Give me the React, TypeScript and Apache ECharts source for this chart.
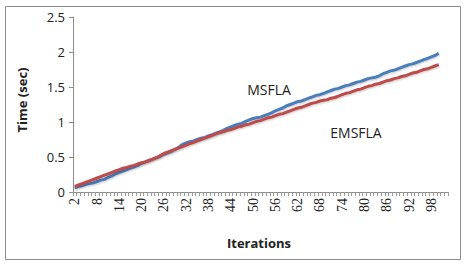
import React, { useEffect, useRef } from "react";
import * as echarts from "echarts";

const categories: string[] = [];
for (let k = 2; k <= 102; k++) categories.push(String(k));

const msfla = [
  0.06, 0.08, 0.09, 0.11, 0.12, 0.13, 0.15, 0.17, 0.18, 0.21,
  0.23, 0.26, 0.28, 0.30, 0.32, 0.34, 0.36, 0.38, 0.41, 0.43,
  0.45, 0.47, 0.49, 0.51, 0.54, 0.56, 0.58, 0.61, 0.64, 0.68,
  0.70, 0.72, 0.73, 0.75, 0.77, 0.78, 0.80, 0.82, 0.84, 0.86,
  0.88, 0.91, 0.93, 0.95, 0.97, 0.98, 1.01, 1.03, 1.05, 1.06,
  1.07, 1.09, 1.11, 1.13, 1.16, 1.18, 1.20, 1.23, 1.25, 1.27,
  1.29, 1.30, 1.32, 1.34, 1.36, 1.38, 1.39, 1.41, 1.43, 1.45,
  1.47, 1.48, 1.50, 1.52, 1.53, 1.55, 1.57, 1.58, 1.60, 1.62,
  1.63, 1.64, 1.66, 1.69, 1.71, 1.73, 1.74, 1.76, 1.78, 1.80,
  1.82, 1.83, 1.85, 1.87, 1.89, 1.91, 1.93, 1.95, 1.98,
];

const emsfla = [
  0.08, 0.10, 0.12, 0.14, 0.16, 0.18, 0.20, 0.22, 0.24, 0.26,
  0.28, 0.30, 0.32, 0.34, 0.35, 0.37, 0.38, 0.40, 0.42, 0.43,
  0.45, 0.47, 0.49, 0.52, 0.55, 0.57, 0.59, 0.61, 0.63, 0.65,
  0.67, 0.69, 0.71, 0.73, 0.75, 0.77, 0.79, 0.81, 0.83, 0.85,
  0.86, 0.88, 0.89, 0.91, 0.93, 0.94, 0.96, 0.97, 0.99, 1.01,
  1.02, 1.04, 1.06, 1.07, 1.09, 1.11, 1.12, 1.14, 1.16, 1.18,
  1.20, 1.21, 1.23, 1.25, 1.27, 1.28, 1.30, 1.31, 1.32, 1.34,
  1.35, 1.37, 1.39, 1.41, 1.42, 1.44, 1.46, 1.47, 1.49, 1.51,
  1.52, 1.54, 1.55, 1.57, 1.59, 1.60, 1.62, 1.63, 1.65, 1.66,
  1.68, 1.70, 1.71, 1.73, 1.75, 1.76, 1.78, 1.80, 1.82,
];

const seriesNames = ["MSFLA", "EMSFLA"];
const yTitle = "Time (sec)";
const xTitle = "Iterations";

export default function App() {
  const ref = useRef<HTMLDivElement>(null);
  useEffect(() => {
    if (!ref.current) return;
    const chart = echarts.init(ref.current, undefined, { renderer: "svg" });
    const sans = "'Open Sans', 'DejaVu Sans', sans-serif";
    chart.setOption({
      animation: false,
      backgroundColor: "#ffffff",
      grid: { left: 73, right: 18, top: 17, bottom: 74 },
      xAxis: {
        type: "category",
        data: categories,
        boundaryGap: true,
        axisLine: { lineStyle: { color: "#8c8c8c", width: 1 } },
        axisTick: { show: true, interval: 0, length: 4, lineStyle: { color: "#9a9a9a" } },
        axisLabel: {
          interval: 5,
          rotate: 90,
          margin: 6,
          fontSize: 14,
          fontFamily: "'Liberation Serif', serif",
          color: "#222",
        },
      },
      yAxis: {
        type: "value",
        min: 0,
        max: 2.5,
        interval: 0.5,
        splitLine: { show: false },
        axisLine: { show: true, lineStyle: { color: "#8c8c8c", width: 1 } },
        axisTick: { show: true, length: 4, lineStyle: { color: "#8c8c8c" } },
        axisLabel: { fontSize: 13, fontFamily: sans, color: "#222", margin: 8 },
      },
      series: [
        {
          name: seriesNames[0],
          type: "line",
          data: msfla,
          symbol: "none",
          lineStyle: {
            color: "#4a7ebb",
            width: 3,
            shadowColor: "rgba(0,0,0,0.25)",
            shadowBlur: 2,
            shadowOffsetY: 1,
          },
          z: 2,
        },
        {
          name: seriesNames[1],
          type: "line",
          data: emsfla,
          symbol: "none",
          lineStyle: {
            color: "#be4b48",
            width: 3,
            shadowColor: "rgba(0,0,0,0.25)",
            shadowBlur: 2,
            shadowOffsetY: 1,
          },
          z: 3,
        },
      ],
      graphic: [
        {
          type: "rect",
          shape: { x: 5.5, y: 6.5, width: 455, height: 253 },
          style: { fill: "none", stroke: "#8c8c8c", lineWidth: 1 },
          silent: true,
        },
        {
          type: "text",
          x: 22,
          y: 100,
          rotation: Math.PI / 2,
          style: {
            text: yTitle,
            fontSize: 13,
            fontWeight: "bold",
            fontFamily: sans,
            fill: "#222",
            align: "center",
            verticalAlign: "middle",
          },
        },
        {
          type: "text",
          x: 259,
          y: 243,
          style: {
            text: xTitle,
            fontSize: 13,
            fontWeight: "bold",
            fontFamily: sans,
            fill: "#222",
            align: "center",
            verticalAlign: "middle",
          },
        },
        {
          type: "text",
          x: 269,
          y: 89,
          style: {
            text: seriesNames[0],
            fontSize: 14,
            fontFamily: sans,
            fill: "#222",
            align: "center",
            verticalAlign: "middle",
          },
        },
        {
          type: "text",
          x: 356,
          y: 132,
          style: {
            text: seriesNames[1],
            fontSize: 14,
            fontFamily: sans,
            fill: "#222",
            align: "center",
            verticalAlign: "middle",
          },
        },
      ],
    });
    return () => chart.dispose();
  }, []);
  return (
    <div
      ref={ref}
      style={{ position: "fixed", left: 0, top: 0, width: 466, height: 266 }}
    />
  );
}
